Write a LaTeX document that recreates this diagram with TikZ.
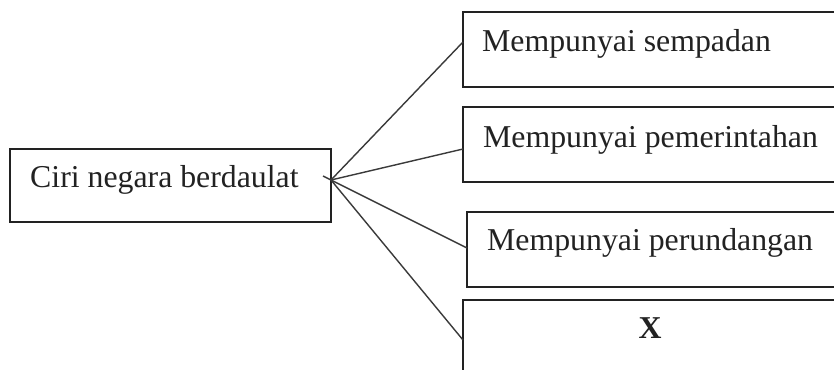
\documentclass[tikz,border=0pt]{standalone}
\usepackage{fontspec}
\setmainfont{Liberation Serif}
\usetikzlibrary{calc}
\definecolor{ink}{HTML}{222222}
\definecolor{wire}{HTML}{3A3A3A}
\begin{document}
\begin{tikzpicture}[x=1pt,y=-1pt,
  box/.style={draw=ink,line width=1.6pt,rectangle,anchor=north west,inner sep=0pt,outer sep=0pt},
  lbl/.style={anchor=base west,inner sep=0pt,text=ink,font=\fontsize{31.8}{38}\selectfont},
  wireline/.style={draw=wire,line width=1.4pt}]
\useasboundingbox (0,0) rectangle (834,369);
\clip (0,0) rectangle (834,369);
\fill[white] (0,0) rectangle (834,369);
% boxes
\node[box,minimum width=321pt,minimum height=73pt] (root) at (10,149) {};
\node[box,minimum width=400pt,minimum height=75pt] (b1) at (463,12) {};
\node[box,minimum width=400pt,minimum height=75pt] (b2) at (463,107) {};
\node[box,minimum width=400pt,minimum height=75pt] (b3) at (467,212) {};
\node[box,minimum width=400pt,minimum height=90pt] (b4) at (463,300) {};
% texts
\node[lbl] (t0) at (30,187) {Ciri negara berdaulat};
\node[lbl] (t1) at (482,52) {Mempunyai sempadan};
\node[lbl] (t2) at (483,147) {Mempunyai pemerintahan};
\node[lbl] (t3) at (487,250) {Mempunyai perundangan};
\node[lbl,anchor=base,font=\fontsize{31.8}{38}\selectfont\bfseries] (t4) at (650,338) {X};
% connectors
\coordinate (hub) at ($(root.north east)+(0,31)$);
\coordinate (stub) at ($(hub)+(-8,-4)$);
\draw[wireline] (hub) -- ($(b1.north west)+(0,30)$);
\draw[wireline] (hub) -- ($(b2.north west)+(0,42)$);
\draw[wireline] (stub) -- ($(b3.north west)+(0,36)$);
\draw[wireline] (hub) -- ($(b4.north west)+(0,40)$);
\end{tikzpicture}
\end{document}
